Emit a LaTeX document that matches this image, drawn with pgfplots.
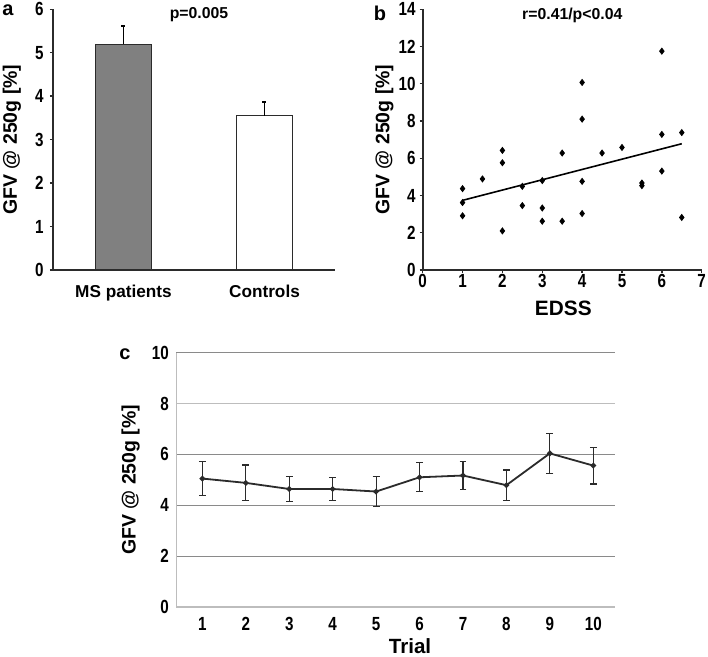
\documentclass[border=0pt]{standalone}
\usepackage{fontspec}
\setmainfont{Liberation Sans}
\newfontfamily\narrowfont{Liberation Sans}[FakeStretch=0.8]
\usepackage{pgfplots}
\pgfplotsset{compat=1.18}
\definecolor{BarGray}{HTML}{808080}
\definecolor{EdgeDark}{HTML}{2B2B2B}
\definecolor{GridGray}{HTML}{8A8A8A}
\definecolor{GridLight}{HTML}{BDBDBD}

\newcommand{\tickfont}{\narrowfont\bfseries\fontsize{9.5}{10}\selectfont}
\newcommand{\labfont}[1]{\bfseries\fontsize{#1}{#1}\selectfont}

\pgfplotsset{
  panel/.style={
    scale only axis,
    axis x line*=bottom, axis y line*=left,
    axis line style={-, line width=0.8pt, EdgeDark},
    tick label style={font=\tickfont},
    /pgf/number format/assume math mode=true,
    tick align=outside, major tick length=1.5pt,
    tick style={line width=0.7pt, EdgeDark},
    y tick label style={inner xsep=0pt, anchor=east},
    x tick label style={anchor=base},
    ylabel style={anchor=center, font=\labfont{9.75}},
  },
}

\begin{document}
\begin{tikzpicture}
\path[use as bounding box] (0,0) rectangle (354pt,328.5pt);

% a: bars
\begin{axis}[panel, at={(26.5pt,193.5pt)}, anchor=south west,
  width=141pt, height=130.35pt,
  xmin=-0.5, xmax=1.5, ymin=0, ymax=6, ytick={0,1,...,6},
  xtick={0,1}, xticklabels={MS patients,Controls},
  x tick style={draw=none},
  x tick label style={font=\labfont{8.6}, yshift=-12.5pt},
  y tick label style={xshift=-3pt},
  ylabel={GFV @ 250g [\%]},
  ylabel style={at={(axis description cs:-0.1454,0.5)}},
]
\addplot[ybar, bar width=0.4, bar shift=0pt, fill=BarGray, draw=EdgeDark, line width=0.7pt,
  error bars/.cd, y dir=plus, y explicit,
  error bar style={line width=0.8pt, black},
  error mark options={rotate=90, mark size=1pt, line width=0.8pt, black}]
  coordinates {(0,5.19) +- (0,0.43)};
\addplot[ybar, bar width=0.4, bar shift=0pt, fill=white, draw=EdgeDark, line width=0.7pt,
  error bars/.cd, y dir=plus, y explicit,
  error bar style={line width=0.8pt, black},
  error mark options={rotate=90, mark size=1pt, line width=0.8pt, black}]
  coordinates {(1,3.55) +- (0,0.31)};
\end{axis}

% b: scatter
\begin{axis}[panel, at={(211.35pt,193.5pt)}, anchor=south west,
  width=139.5pt, height=130.35pt,
  xmin=0, xmax=7, ymin=0, ymax=14,
  xtick={0,1,...,7}, ytick={0,2,...,14},
  x tick label style={yshift=-7.2pt},
  y tick label style={xshift=-1.9pt},
  xlabel={EDSS},
  xlabel style={at={(axis description cs:0.504,-0.1458)}, anchor=center, font=\labfont{10.4}},
  ylabel={GFV @ 250g [\%]},
  ylabel style={at={(axis description cs:-0.1376,0.5)}},
]
\addplot[only marks, mark=diamond*, mark size=1.5pt, black] table {
x y
1 4.37
1 3.62
1 2.91
1.5 4.89
2 6.42
2 5.76
2 2.10
2.5 4.49
2.5 3.46
3 4.80
3 3.33
3 2.62
3.5 6.28
3.5 2.62
4 10.07
4 8.10
4 4.76
4 3.03
4.5 6.28
5 6.58
5.5 4.67
5.5 4.53
6 11.75
6 7.28
6 5.31
6.5 7.38
6.5 2.82
};
\addplot[black, line width=0.8pt] coordinates {(1,3.74) (6.5,6.78)};
\end{axis}

% c: trials
\begin{axis}[panel, at={(88.15pt,25pt)}, anchor=south west,
  width=219.35pt, height=127.15pt,
  axis line style={-, line width=0.6pt, GridLight},
  xmin=0.4, xmax=10.5, ymin=0, ymax=10,
  xtick={1,2,...,10}, ytick={0,2,4,6,10},
  extra y ticks={8},
  extra y tick style={grid style={GridLight, line width=0.8pt}},
  tick style={draw=none},
  ymajorgrids, grid style={GridGray, line width=0.5pt},
  x tick label style={yshift=-10.2pt},
  y tick label style={xshift=-2pt},
  xlabel={Trial},
  xlabel style={at={(axis description cs:0.5327,-0.1557)}, anchor=center, font=\labfont{10.3}},
  ylabel={GFV @ 250g [\%]},
  ylabel style={at={(axis description cs:-0.1039,0.5)}},
]
\addplot[EdgeDark, line width=0.9pt, mark=*, mark size=0.9pt,
  error bars/.cd, y dir=both, y explicit,
  error bar style={line width=0.6pt},
  error mark options={rotate=90, mark size=1.7pt, line width=0.6pt}]
  table[x=x, y=y, y error=e] {
x y e
1 5.05 0.68
2 4.88 0.70
3 4.64 0.49
4 4.64 0.44
5 4.54 0.60
6 5.10 0.57
7 5.17 0.55
8 4.79 0.60
9 6.04 0.78
10 5.56 0.72
};
\end{axis}

\node[font=\labfont{7.9}] at (99.5pt,321pt) {p=0.005};
\node[font=\labfont{7.9}] at (286.15pt,321pt) {r=0.41/p<0.04};
\node[font=\labfont{10}] at (4pt,323.5pt) {a};
\node[font=\labfont{10}] at (190pt,322pt) {b};
\node[font=\labfont{10}] at (62.5pt,151.5pt) {c};
\end{tikzpicture}
\end{document}
